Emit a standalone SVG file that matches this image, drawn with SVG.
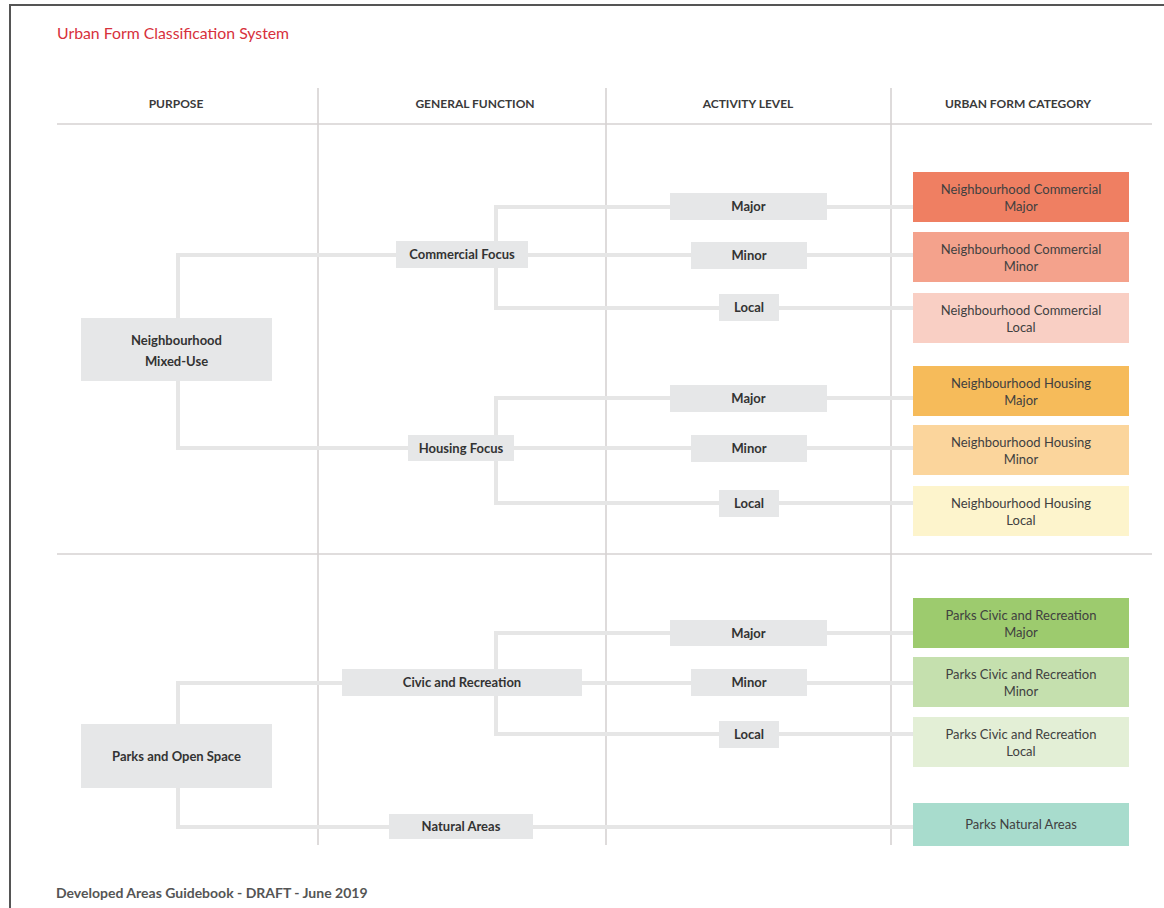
<svg xmlns="http://www.w3.org/2000/svg" width="1164" height="908" viewBox="0 0 1164 908">
<style>
.bg{fill:#ffffff}
.frame{fill:none;stroke:#555555;stroke-width:2}
.grid{fill:none;stroke:#d6d2d2;stroke-width:1.6}
.conn{fill:none;stroke:#e6e6e6;stroke-width:4}
.gbox{fill:#e6e7e8}
.title{font-family:Lato,"Liberation Sans",sans-serif;font-size:15.8px;fill:#d7313c}
.head{font-family:Lato,"Liberation Sans",sans-serif;font-size:12px;font-weight:bold;fill:#3a3a3a;text-anchor:middle}
.lbl{font-family:Lato,"Liberation Sans",sans-serif;font-size:13px;font-weight:bold;fill:#333333;text-anchor:middle}
.cat{font-family:Lato,"Liberation Sans",sans-serif;font-size:13px;fill:#404040;text-anchor:middle}
.foot{font-family:Lato,"Liberation Sans",sans-serif;font-size:14px;font-weight:bold;fill:#555555}
</style>
<rect class="bg" x="0" y="0" width="1164" height="908"/>
<path class="frame" d="M10,908 V5 H1164"/>
<text class="title" x="57" y="39">Urban Form Classification System</text>

<g id="headers">
<text class="head" x="176" y="108">PURPOSE</text>
<text class="head" x="475" y="108">GENERAL FUNCTION</text>
<text class="head" x="748" y="108">ACTIVITY LEVEL</text>
<text class="head" x="1018" y="108">URBAN FORM CATEGORY</text>
</g>

<g id="grid">
<line class="grid" x1="57" y1="124" x2="1152" y2="124"/>
<line class="grid" x1="57" y1="554" x2="1152" y2="554"/>
<line class="grid" x1="318" y1="88" x2="318" y2="845"/>
<line class="grid" x1="606" y1="88" x2="606" y2="845"/>
<line class="grid" x1="891" y1="88" x2="891" y2="845"/>
</g>

<g id="connectors">
<path class="conn" d="M178,320 V255 H913"/>
<path class="conn" d="M178,380 V448 H913"/>
<path class="conn" d="M913,207 H496 V308 H913"/>
<path class="conn" d="M913,398 H496 V503 H913"/>
<path class="conn" d="M178,726 V683 H913"/>
<path class="conn" d="M913,633 H496 V734 H913"/>
<path class="conn" d="M178,786 V827 H913"/>
</g>

<g id="purpose-neighbourhood">
<rect class="gbox" x="81" y="318" width="191" height="63"/>
<text class="lbl" x="176.5" y="344.5">Neighbourhood</text>
<text class="lbl" x="176.5" y="365.5">Mixed-Use</text>
</g>
<g id="purpose-parks">
<rect class="gbox" x="81" y="724" width="191" height="64"/>
<text class="lbl" x="176.5" y="760.5">Parks and Open Space</text>
</g>

<g id="func-commercial">
<rect class="gbox" x="396" y="241" width="132" height="27"/>
<text class="lbl" x="462" y="259">Commercial Focus</text>
</g>
<g id="func-housing">
<rect class="gbox" x="408" y="435" width="106" height="26"/>
<text class="lbl" x="461" y="452.5">Housing Focus</text>
</g>
<g id="func-civic">
<rect class="gbox" x="342" y="669" width="240" height="27"/>
<text class="lbl" x="462" y="687">Civic and Recreation</text>
</g>
<g id="func-natural">
<rect class="gbox" x="389" y="814" width="144" height="25"/>
<text class="lbl" x="461" y="831">Natural Areas</text>
</g>

<g id="act-com-major"><rect class="gbox" x="670" y="193" width="157" height="27"/><text class="lbl" x="748.5" y="211">Major</text></g>
<g id="act-com-minor"><rect class="gbox" x="691" y="242" width="116" height="27"/><text class="lbl" x="749" y="259.5">Minor</text></g>
<g id="act-com-local"><rect class="gbox" x="719" y="294" width="60" height="27"/><text class="lbl" x="749" y="312">Local</text></g>
<g id="act-hou-major"><rect class="gbox" x="670" y="385" width="157" height="27"/><text class="lbl" x="748.5" y="403">Major</text></g>
<g id="act-hou-minor"><rect class="gbox" x="691" y="435" width="116" height="27"/><text class="lbl" x="749" y="453">Minor</text></g>
<g id="act-hou-local"><rect class="gbox" x="719" y="490" width="60" height="27"/><text class="lbl" x="749" y="508">Local</text></g>
<g id="act-civ-major"><rect class="gbox" x="670" y="620" width="157" height="26"/><text class="lbl" x="748.5" y="637.5">Major</text></g>
<g id="act-civ-minor"><rect class="gbox" x="691" y="669" width="116" height="27"/><text class="lbl" x="749" y="687">Minor</text></g>
<g id="act-civ-local"><rect class="gbox" x="719" y="721" width="60" height="27"/><text class="lbl" x="749" y="739">Local</text></g>

<g id="cat-nc-major"><rect x="913" y="172" width="216" height="50" fill="#ef7f62"/><text class="cat" x="1021" y="193.5">Neighbourhood Commercial</text><text class="cat" x="1021" y="210.5">Major</text></g>
<g id="cat-nc-minor"><rect x="913" y="232" width="216" height="50" fill="#f4a28c"/><text class="cat" x="1021" y="253.5">Neighbourhood Commercial</text><text class="cat" x="1021" y="270.5">Minor</text></g>
<g id="cat-nc-local"><rect x="913" y="293" width="216" height="50" fill="#f9cfc4"/><text class="cat" x="1021" y="314.5">Neighbourhood Commercial</text><text class="cat" x="1021" y="331.5">Local</text></g>
<g id="cat-nh-major"><rect x="913" y="366" width="216" height="50" fill="#f6bb5a"/><text class="cat" x="1021" y="387.5">Neighbourhood Housing</text><text class="cat" x="1021" y="404.5">Major</text></g>
<g id="cat-nh-minor"><rect x="913" y="425" width="216" height="50" fill="#fbd59c"/><text class="cat" x="1021" y="446.5">Neighbourhood Housing</text><text class="cat" x="1021" y="463.5">Minor</text></g>
<g id="cat-nh-local"><rect x="913" y="486" width="216" height="50" fill="#fdf4cc"/><text class="cat" x="1021" y="507.5">Neighbourhood Housing</text><text class="cat" x="1021" y="524.5">Local</text></g>
<g id="cat-pcr-major"><rect x="913" y="598" width="216" height="50" fill="#9dcb6e"/><text class="cat" x="1021" y="619.5">Parks Civic and Recreation</text><text class="cat" x="1021" y="636.5">Major</text></g>
<g id="cat-pcr-minor"><rect x="913" y="657" width="216" height="50" fill="#c5e0ae"/><text class="cat" x="1021" y="678.5">Parks Civic and Recreation</text><text class="cat" x="1021" y="695.5">Minor</text></g>
<g id="cat-pcr-local"><rect x="913" y="717" width="216" height="50" fill="#e3efd6"/><text class="cat" x="1021" y="738.5">Parks Civic and Recreation</text><text class="cat" x="1021" y="755.5">Local</text></g>
<g id="cat-pna"><rect x="913" y="803" width="216" height="43" fill="#a8dccd"/><text class="cat" x="1021" y="829">Parks Natural Areas</text></g>

<text class="foot" x="56" y="898">Developed Areas Guidebook - DRAFT - June 2019</text>
</svg>
